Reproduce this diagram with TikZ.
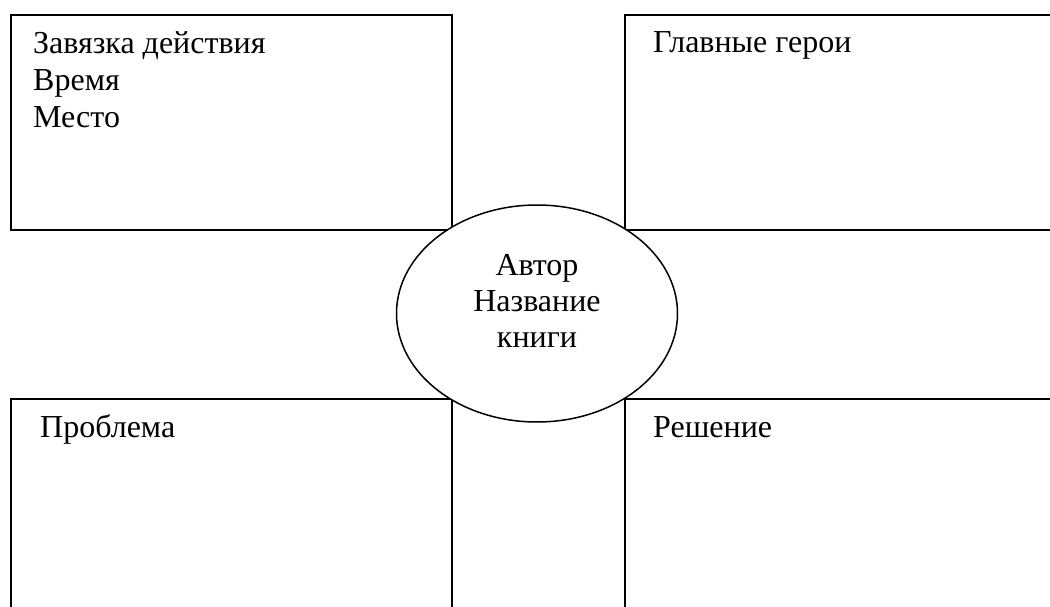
\documentclass[tikz,border=0pt]{standalone}
\usepackage{fontspec}
\setmainfont{Liberation Serif}
\usetikzlibrary{shapes.geometric}
\tikzset{
  panel/.style={draw, line width=1.6pt, minimum width=#1, inner sep=0pt, anchor=north west},
  hub/.style={ellipse, draw, fill=white, line width=1.5pt, minimum width=281pt, minimum height=217pt, inner sep=0pt},
  label/.style={font=\fontsize{32pt}{37pt}\selectfont, inner sep=0pt, anchor=base west, align=left},
  hubtext/.style={font=\fontsize{32pt}{36pt}\selectfont, inner sep=0pt, align=center}
}
\begin{document}
\begin{tikzpicture}[x=1pt, y=-1pt]
  \useasboundingbox[fill=white] (0,0) rectangle (1050,607);
  \begin{scope}
    \clip (0,0) rectangle (1050,607);
    % four panels; the right and bottom ones run off the page
    \node[panel=441pt, minimum height=215pt] (setup) at (10,14) {};
    \node[panel=460pt, minimum height=215pt] (heroes) at (624,14) {};
    \node[panel=441pt, minimum height=240pt] (problem) at (10,398) {};
    \node[panel=460pt, minimum height=240pt] (solution) at (624,398) {};
    % central ellipse
    \node[hub] (book) at (537,313.5) {};
  \end{scope}
  % panel texts (a multi-line node sits on the baseline of its last line)
  \node[label] (setuptext) at (33,128) {Завязка действия\\Время\\Место};
  \node[label] (heroestext) at (653,53) {Главные герои};
  \node[label] (problemtext) at (40,437) {Проблема};
  \node[label] (solutiontext) at (653,437) {Решение};
  % ellipse text
  \node[hubtext, anchor=base] (booktext) at (537,347) {Автор\\Название\\книги};
\end{tikzpicture}
\end{document}
